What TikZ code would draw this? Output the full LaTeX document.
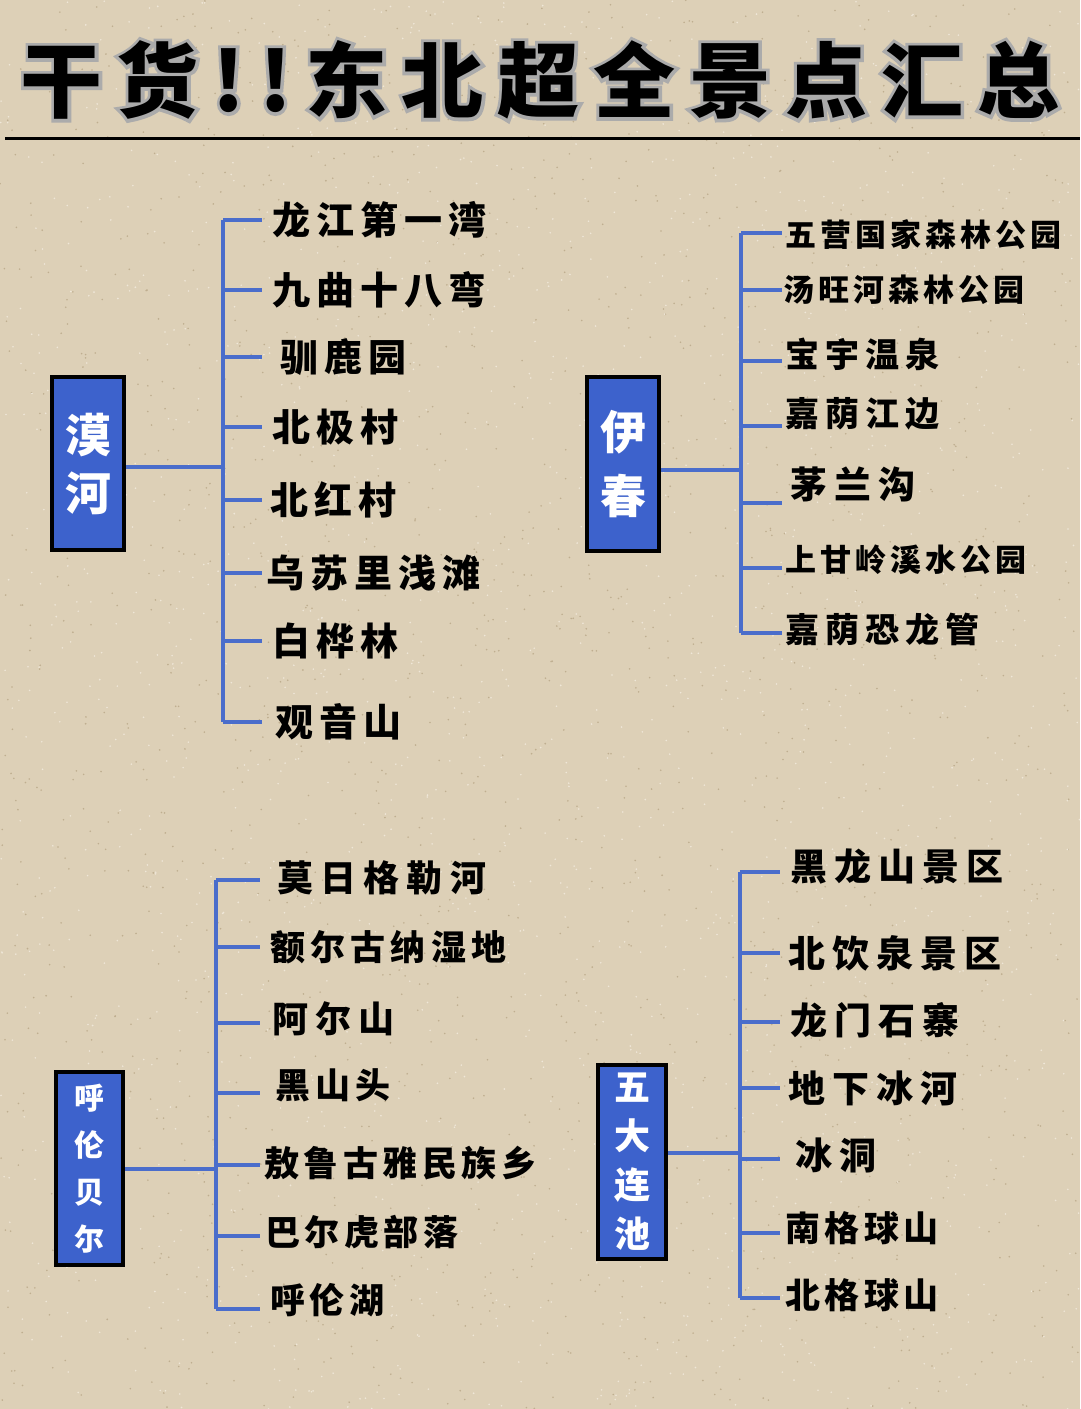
\documentclass[tikz,border=0pt]{standalone}
\usepackage{fontspec}
\newfontfamily\cjk{Noto Sans CJK SC}
\newfontfamily\cjkglow[FakeBold=8]{Noto Sans CJK SC}
\definecolor{bg}{HTML}{DDD0B7}
\definecolor{bgdark}{HTML}{BFAE90}
\definecolor{bglight}{HTML}{EFE7D8}
\definecolor{boxblue}{HTML}{3D62CC}
\definecolor{linkblue}{HTML}{4A6DCB}
\definecolor{glow}{HTML}{ABABAB}
\tikzset{
  catbox/.style={draw=black, line width=4pt, fill=boxblue, text=white, inner sep=0pt, align=center},
  link/.style={draw=linkblue, line width=4pt},
  lab/.style={anchor=west, inner sep=0pt, text=black},
  fa/.style={font=\cjk\bfseries\fontsize{38}{40}\selectfont\addfontfeature{LetterSpace=16}},
  fb/.style={font=\cjk\bfseries\fontsize{31}{33}\selectfont\addfontfeature{LetterSpace=13}},
  fc/.style={font=\cjk\bfseries\fontsize{34}{36}\selectfont\addfontfeature{LetterSpace=18}},
  fd/.style={font=\cjk\bfseries\fontsize{36}{38}\selectfont\addfontfeature{LetterSpace=20}},
  fe/.style={font=\cjk\bfseries\fontsize{35}{37}\selectfont\addfontfeature{LetterSpace=15}},
  ff/.style={font=\cjk\bfseries\fontsize{37}{39}\selectfont\addfontfeature{LetterSpace=19}},
  fg/.style={font=\cjk\bfseries\fontsize{35}{37}\selectfont\addfontfeature{LetterSpace=13}},
  titlef/.style={font=\cjk\bfseries\fontsize{82}{86}\selectfont\addfontfeature{LetterSpace=17}},
  titleglowf/.style={font=\cjkglow\bfseries\fontsize{82}{86}\selectfont\addfontfeature{LetterSpace=17}},
}
\begin{document}
\begin{tikzpicture}[x=1pt,y=-1pt]
\fill[bg] (0,0) rectangle (1080,1409);
\useasboundingbox (0,0) rectangle (1080,1409);
% sand texture
\pgfmathsetseed{7}
\foreach \k in {1,...,1800}{
  \pgfmathsetmacro{\gx}{rnd*1080}
  \pgfmathsetmacro{\gy}{rnd*1409}
  \fill[bgdark] (\gx,\gy) circle (0.9);
}
\foreach \k in {1,...,1800}{
  \pgfmathsetmacro{\gx}{rnd*1080}
  \pgfmathsetmacro{\gy}{rnd*1409}
  \fill[bglight] (\gx,\gy) circle (0.9);
}
% title with grey halo
\node[titleglowf, text=glow] (titleglow) at (540,80) {干货!!东北超全景点汇总};
\node[titlef, text=black] (title) at (titleglow.center) {干货!!东北超全景点汇总};
\coordinate (tl) at (5,138);
\coordinate (tr) at (1080,138);
\draw[line width=3pt, black] (tl) -- (tr);

% ===== 漠河 =====
\node[catbox, minimum width=72pt, minimum height=173pt, font=\cjk\bfseries\fontsize{46}{58}\selectfont] (hanhe) at (88,463.5) {漠\\河};
\coordinate (hT) at (223,220);
\coordinate (hB) at (223,722);
\coordinate (hM) at (223,467);
\draw[link] (hanhe.east |- hM) -- (hM);
\draw[link] (hT) -- (hB);
\foreach \i/\y/\t/\x in {1/220/龙江第一湾/272, 2/290/九曲十八弯/272, 3/357/驯鹿园/280, 4/427/北极村/272, 5/500/北红村/270, 6/573/乌苏里浅滩/266, 7/641/白桦林/272, 8/722/观音山/275}{
  \coordinate (hb\i) at (223,\y);
  \coordinate (he\i) at (262,\y);
  \draw[link] (hb\i) -- (he\i);
  \node[lab, fa] (hl\i) at (\x,\y) {\t};
}

% ===== 伊春 =====
\node[catbox, minimum width=72pt, minimum height=174pt, font=\cjk\bfseries\fontsize{46}{64}\selectfont] (yichun) at (623,464) {伊\\春};
\coordinate (yT) at (741,233);
\coordinate (yB) at (741,633);
\coordinate (yM) at (741,470);
\draw[link] (yichun.east |- yM) -- (yM);
\draw[link] (yT) -- (yB);
\foreach \i/\y in {1/233, 2/290, 3/361, 4/426, 5/503, 6/568, 7/633}{
  \coordinate (yb\i) at (741,\y);
  \coordinate (ye\i) at (782,\y);
  \draw[link] (yb\i) -- (ye\i);
}
\node[lab, fb] (yl1) at (785,235) {五营国家森林公园};
\node[lab, fb] (yl2) at (783,290) {汤旺河森林公园};
\node[lab, fc] (yl3) at (785,354) {宝宇温泉};
\node[lab, fc] (yl4) at (785,414) {嘉荫江边};
\node[lab, ff] (yl5) at (790,484) {茅兰沟};
\node[lab, fb] (yl6) at (785,560) {上甘岭溪水公园};
\node[lab, fc] (yl7) at (785,630) {嘉荫恐龙管};

% ===== 呼伦贝尔 =====
\node[catbox, minimum width=67pt, minimum height=193pt, font=\cjk\bfseries\fontsize{30}{47}\selectfont] (hulun) at (89.5,1168.5) {呼\\伦\\贝\\尔};
\coordinate (uT) at (216,880);
\coordinate (uB) at (216,1309);
\coordinate (uM) at (216,1169);
\draw[link] (hulun.east |- uM) -- (uM);
\draw[link] (uT) -- (uB);
\foreach \i/\y in {1/880, 2/947, 3/1023, 4/1093, 5/1165, 6/1236, 7/1309}{
  \coordinate (ub\i) at (216,\y);
  \coordinate (ue\i) at (260,\y);
  \draw[link] (ub\i) -- (ue\i);
}
\node[lab, fd] (ul1) at (277,878) {莫日格勒河};
\node[lab, fe] (ul2) at (270,947) {额尔古纳湿地};
\node[lab, fd] (ul3) at (272,1019) {阿尔山};
\node[lab, fe] (ul4) at (275,1085) {黑山头};
\node[lab, fg] (ul5) at (264,1163) {敖鲁古雅民族乡};
\node[lab, fg] (ul6) at (265,1232) {巴尔虎部落};
\node[lab, fg] (ul7) at (270,1300) {呼伦湖};

% ===== 五大连池 =====
\node[catbox, minimum width=68pt, minimum height=194pt, font=\cjk\bfseries\fontsize{36}{49}\selectfont] (wuda) at (632,1162) {五\\大\\连\\池};
\coordinate (wT) at (740,872);
\coordinate (wB) at (740,1298);
\coordinate (wM) at (740,1153);
\draw[link] (wuda.east |- wM) -- (wM);
\draw[link] (wT) -- (wB);
\foreach \i/\y in {1/872, 2/953, 3/1022, 4/1088, 5/1159, 6/1233, 7/1298}{
  \coordinate (wb\i) at (740,\y);
  \coordinate (we\i) at (780,\y);
  \draw[link] (wb\i) -- (we\i);
}
\node[lab, ff] (wl1) at (790,867) {黑龙山景区};
\node[lab, ff] (wl2) at (788,953) {北饮泉景区};
\node[lab, ff] (wl3) at (790,1020) {龙门石寨};
\node[lab, ff] (wl4) at (788,1088) {地下冰河};
\node[lab, ff] (wl5) at (795,1155) {冰洞};
\node[lab, fg] (wl6) at (785,1228) {南格球山};
\node[lab, fg] (wl7) at (785,1295) {北格球山};
\end{tikzpicture}
\end{document}
